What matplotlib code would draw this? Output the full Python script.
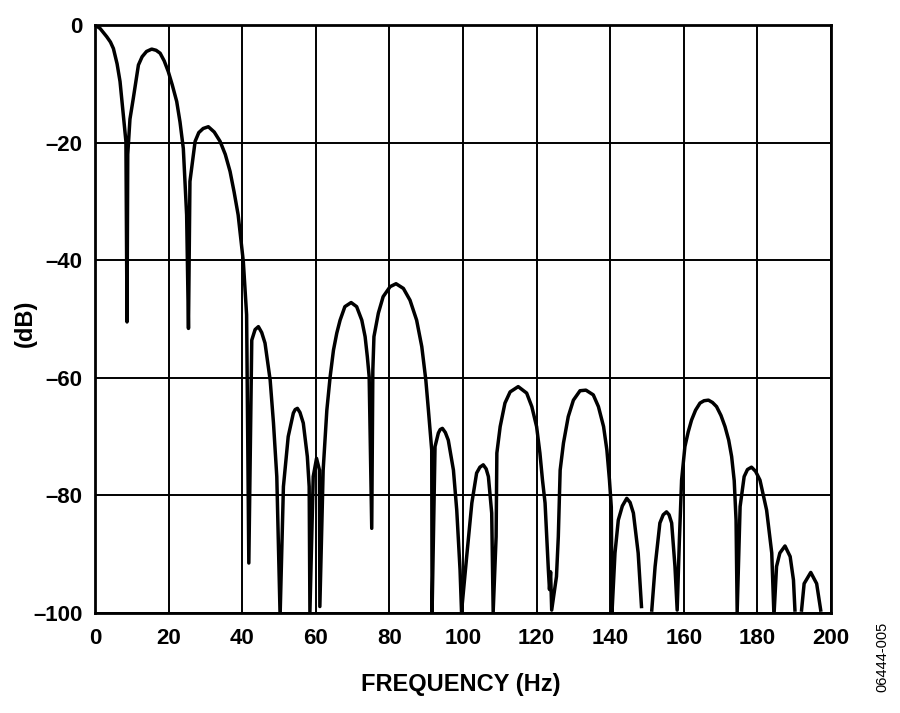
import numpy as np
import matplotlib
matplotlib.use("Agg")
import matplotlib.pyplot as plt

nan = np.nan
# Frequency (Hz) and magnitude (dB)
freq_hz = [0, 1.4, 3.2, 4.2, 5.0, 6.0, 6.8, 7.7, 8.4, 8.7,
           8.9, 9.5, 10.4, 11.8, 12.8, 14.0, 15.4, 16.6, 17.7, 18.8, 19.9, 21.0, 22.2, 23.1, 24.0, 24.9, 25.4,
           25.8, 27.2, 28.2, 29.4, 30.8, 32.4, 34.0, 35.4, 36.7, 37.8, 38.9, 40.3, 41.2, 41.8,
           42.6, 43.5, 44.4, 45.3, 46.2, 47.6, 48.5, 49.4, 50.3,
           51.2, 52.5, 53.9, 54.4, 55.0, 55.7, 56.6, 57.7, 58.2, 58.4,
           59.3, 60.2, 61.0, 61.1,
           62.0, 63.0, 63.9, 64.8, 65.7, 66.6, 67.9, 69.6, 71.1, 72.5, 73.4, 74.0, 74.5, 75.2,
           75.5, 75.8, 77.0, 78.3, 80.2, 81.8, 83.8, 85.6, 87.4, 88.8, 89.9, 90.6, 91.5, 91.6,
           92.4, 93.3, 93.8, 94.4, 95.2, 96.0, 97.4, 98.3, 99.2, 99.6,
           101.0, 102.4, 103.7, 104.6, 105.5, 106.3, 106.9, 107.8, 108.2,
           109.0, 109.2, 110.1, 111.4, 112.8, 115.0, 117.3, 118.7, 120.0, 120.9, 121.6, 122.3, 123.2, 123.5, 123.8, 124.1,
           125.4, 125.9, 126.4, 127.3, 128.6, 130.0, 131.8, 133.4, 135.4, 136.8, 138.2, 139.1, 139.8, 140.3, 140.5,
           141.3, 142.2, 143.3, 144.5, 145.4, 146.3, 147.6, 148.5, 149.5,
           151.3, 152.2, 153.5, 154.4, 155.3, 156.0, 156.7, 157.6, 158.2,
           158.8, 159.4, 160.3, 161.2, 162.1, 163.2, 164.4, 165.5, 166.7, 167.8, 168.9, 170.1, 171.2, 172.2, 173.0, 173.7, 174.2, 174.5,
           175.3, 176.4, 177.3, 178.4, 179.5, 180.7, 182.5, 183.9, 184.5,
           185.2, 186.1, 187.5, 188.9, 189.8, 190.2, 191.0,
           192.0, 192.7, 194.5, 196.1, 197.2]
mag_db = [0, -0.6, -2.0, -2.9, -4.0, -6.6, -9.6, -15.3, -19.8, -50.5,
          -22.0, -16.0, -12.5, -6.8, -5.4, -4.5, -4.1, -4.3, -4.8, -6.1, -7.9, -10.2, -13.0, -16.5, -21.0, -32.3, -51.6,
          -26.6, -19.8, -18.3, -17.6, -17.3, -18.2, -19.8, -22.0, -24.9, -28.4, -32.3, -40.2, -49.3, -91.5,
          -53.6, -51.8, -51.3, -52.3, -54.1, -60.4, -67.7, -76.8, -100.5,
          -78.5, -70.0, -66.0, -65.4, -65.2, -65.9, -67.7, -73.4, -78.5, -99.8,
          -76.8, -73.7, -75.7, -98.9,
          -75.7, -65.5, -59.8, -55.3, -52.4, -50.2, -47.9, -47.2, -47.9, -50.2, -53.0, -56.4, -59.8, -85.6,
          -58.7, -53.0, -49.0, -46.2, -44.5, -44.0, -44.8, -46.8, -50.2, -54.7, -60.4, -65.5, -72.3, -99.8,
          -71.7, -69.4, -68.8, -68.6, -69.3, -70.6, -75.7, -82.5, -92.7, -99.8,
          -90.4, -81.3, -76.2, -75.2, -74.8, -75.5, -76.8, -83.0, -99.8,
          -87.0, -72.8, -68.3, -64.3, -62.4, -61.5, -62.6, -64.9, -68.3, -72.8, -77.4, -81.3, -92.7, -96.0, -93.0, -99.5,
          -93.8, -87.0, -75.7, -71.1, -66.6, -63.8, -62.2, -62.1, -62.9, -64.9, -68.3, -72.3, -77.4, -82.0, -99.8,
          -89.8, -84.2, -81.8, -80.5, -81.2, -83.0, -89.8, -98.9, nan,
          -99.5, -92.1, -84.7, -83.3, -82.8, -83.3, -84.7, -92.1, -99.5,
          -87.6, -77.4, -71.7, -69.2, -67.2, -65.5, -64.3, -63.9, -63.8, -64.2, -64.9, -66.4, -68.3, -70.6, -73.4, -77.5, -84.2, -99.8,
          -81.9, -76.8, -75.6, -75.2, -75.9, -77.4, -82.5, -89.8, -100.5,
          -92.1, -89.8, -88.6, -90.4, -94.4, -99.5, nan,
          -99.5, -95.0, -93.1, -95.0, -99.5]

x_ticks = [0, 20, 40, 60, 80, 100, 120, 140, 160, 180, 200]
y_ticks = [0, -20, -40, -60, -80, -100]
y_tick_labels = ["0", "–20", "–40", "–60", "–80", "–100"]

fam = ["Liberation Sans", "DejaVu Sans"]

fig = plt.figure(figsize=(9.0, 7.13), dpi=100)
ax = fig.add_axes([95/900, 1 - 613/713, (831 - 95)/900, (613 - 25)/713])

ax.plot(freq_hz, mag_db, color="black", linewidth=2.5, solid_joinstyle="round", zorder=3)

ax.set_xlim(0, 200)
ax.set_ylim(-100, 0)
ax.set_xticks(x_ticks)
ax.set_yticks(y_ticks)
ax.set_xticklabels([str(t) for t in x_ticks], fontsize=16, fontweight="bold", family=fam)
ax.set_yticklabels(y_tick_labels, fontsize=16, fontweight="bold", family=fam)
ax.tick_params(axis="x", length=0, pad=11)
ax.tick_params(axis="y", length=0, pad=9)
ax.grid(True, color="black", linewidth=1.4)
for s in ax.spines.values():
    s.set_linewidth(2.0)
    s.set_color("black")

fig.text(461/900, 1 - 684/713, "FREQUENCY (Hz)", fontsize=17, fontweight="bold",
         family=fam, ha="center", va="center")
fig.text(25/900, 1 - 323/713, "(dB)", fontsize=17, fontweight="bold", family=fam,
         rotation=90, ha="center", va="center")
fig.text(882/900, 1 - 657/713, "06444-005", rotation=90, fontsize=10.5,
         ha="center", va="center", family=fam)

fig.savefig("out.png", dpi=100)
